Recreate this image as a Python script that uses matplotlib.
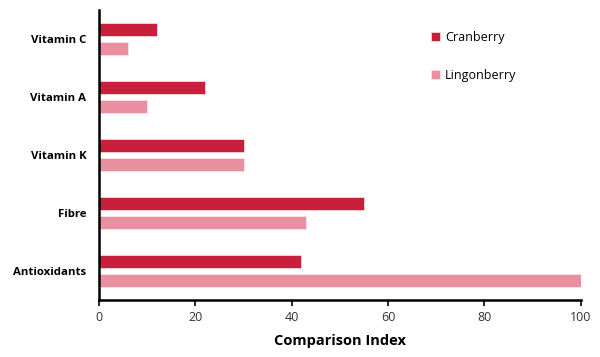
import numpy as np
import matplotlib.pyplot as plt

categories = ['Antioxidants', 'Fibre', 'Vitamin K', 'Vitamin A', 'Vitamin C']
cranberry = [42, 55, 30, 22, 12]
lingonberry = [100, 43, 30, 10, 6]

plt.rcParams['font.family'] = ['Open Sans', 'DejaVu Sans']

fig = plt.figure(figsize=(6, 3.57), dpi=100)
ax = fig.add_axes([0.165, 0.16, 0.803, 0.812])

y = np.arange(len(categories))
h = 0.224
off = 0.164
ax.barh(y + off, cranberry, height=h, color='#C8203A', edgecolor='#F6D5DA', linewidth=0.6, label='Cranberry')
ax.barh(y - off, lingonberry, height=h, color='#E8909F', edgecolor='#FBE3E7', linewidth=0.6, label='Lingonberry')

ax.set_xlim(0, 100)
ax.set_ylim(-0.5, 4.5)
ax.set_yticks(y)
ax.set_yticklabels(categories, fontweight='bold', fontsize=8.2)
ax.tick_params(axis='y', length=0, pad=9)
ax.set_xticks([0, 20, 40, 60, 80, 100])
ax.tick_params(axis='x', labelsize=9, length=4, width=1.2, direction='out', colors='black', labelcolor='#333333', pad=4)
ax.set_xlabel('Comparison Index', fontweight='bold', fontsize=10.5, labelpad=7)

for s in ['top', 'right']:
    ax.spines[s].set_visible(False)
for s in ['left', 'bottom']:
    ax.spines[s].set_linewidth(1.8)

ax.legend(loc='upper left', bbox_to_anchor=(0.7, 0.945), bbox_transform=fig.transFigure,
          frameon=False, fontsize=9, labelspacing=2.0, handlelength=0.7, handleheight=0.7,
          handletextpad=0.4)

fig.savefig('out.png', dpi=100)
